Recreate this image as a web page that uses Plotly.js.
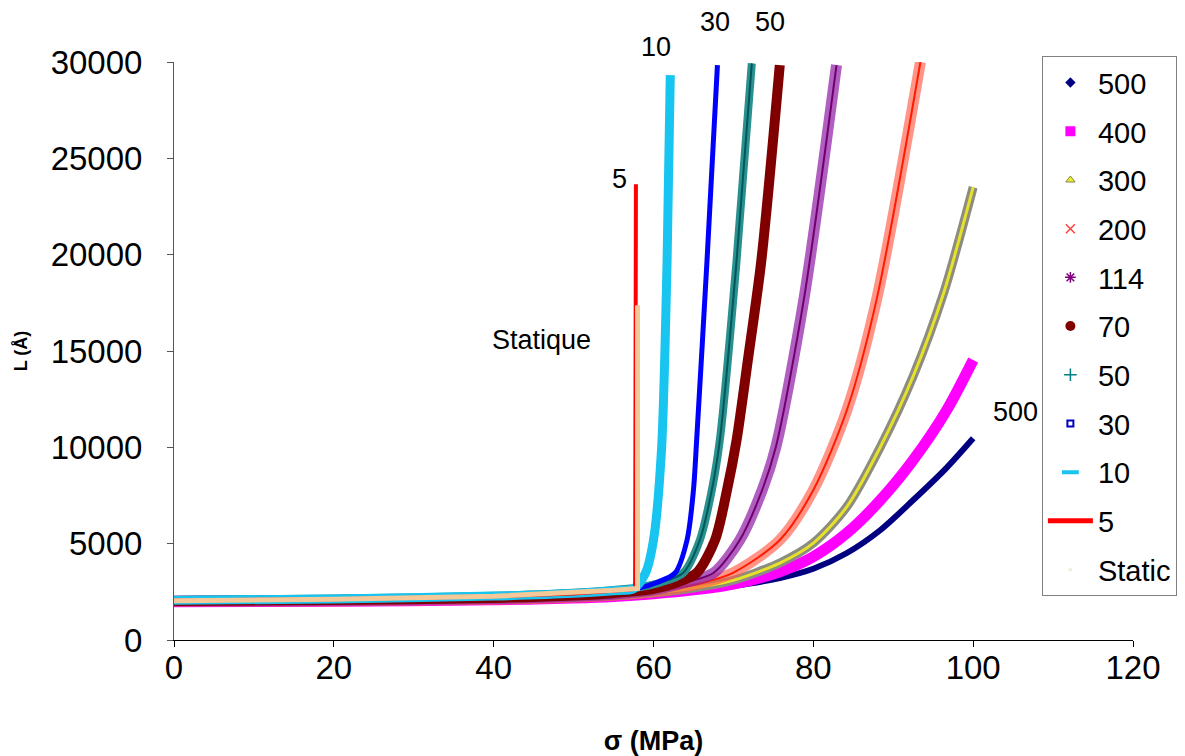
<!DOCTYPE html>
<html>
<head>
<meta charset="utf-8">
<script src="https://cdn.plot.ly/plotly-3.0.1.min.js"></script>
<style>html,body{margin:0;padding:0;background:#fff;}#chart{width:1185px;height:756px;}</style>
</head>
<body>
<div id="chart"></div>
<script>
// Series names (legend order)
const seriesNames = ["500", "400", "300", "200", "114", "70", "50", "30", "10", "5", "Static"];

// sigma (MPa) and L (Å)
const s500 = [0, 20, 40, 50, 55, 60, 65, 70, 75.8, 80, 84.2, 88.4, 92.5, 96.7, 100];
const L500 = [1980, 2000, 2080, 2170, 2250, 2380, 2550, 2800, 3217, 3700, 4515, 5710, 7265, 8950, 10470];

const s400 = [0, 20, 40, 50, 55, 60, 65, 70, 75.8, 80, 84.2, 88.4, 92.5, 96.7, 100];
const L400 = [1990, 2010, 2090, 2180, 2260, 2400, 2600, 2900, 3545, 4323, 5550, 7265, 9340, 11935, 14530];

const s300 = [0, 20, 40, 50, 55, 60, 65, 70, 75.8, 80, 84.2, 88.4, 92.5, 96.3, 100];
const L300 = [2000, 2020, 2100, 2200, 2290, 2450, 2700, 3100, 3995, 5030, 6918, 10030, 13700, 18000, 23500];

const s200 = [0, 20, 40, 50, 55, 60, 65, 70, 75.8, 80, 84.2, 87.9, 93.4];
const L200 = [2010, 2030, 2110, 2220, 2320, 2500, 2850, 3500, 5190, 7785, 11935, 17640, 30000];

const s114 = [0, 20, 40, 50, 55, 60, 64, 67.5, 70.8, 73.6, 75.3, 78.8, 82.9];
const L114 = [2020, 2050, 2150, 2270, 2380, 2600, 3000, 3477, 5190, 7785, 10000, 17640, 29840];

const s70 = [0, 20, 40, 50, 55, 60, 63, 65.4, 67.7, 69.2, 70.4, 71.8, 73.5, 75.8];
const L70 = [2030, 2070, 2180, 2310, 2430, 2650, 3000, 3477, 5190, 7785, 10380, 14500, 19720, 29840];

const s50 = [0, 20, 40, 50, 55, 58, 61, 63.7, 65.8, 67.3, 68.3, 70.4, 72.3];
const L50 = [2080, 2150, 2300, 2450, 2600, 2720, 3000, 3477, 5190, 7785, 10380, 19720, 29930];

const s30 = [0, 20, 40, 50, 55, 58, 60.5, 62.7, 64.2, 65.0, 65.4, 66.7, 68.0];
const L30 = [2070, 2140, 2290, 2440, 2580, 2680, 3000, 3477, 5190, 7785, 10380, 19720, 29840];

const s10 = [0, 20, 40, 50, 55, 57.5, 59.0, 60.0, 61.0, 61.7, 62.1];
const L10 = [2060, 2130, 2280, 2420, 2560, 2660, 3477, 5190, 9860, 19720, 29320];

const s5 = [0, 20, 40, 50, 55, 57.7, 57.8];
const L5 = [2050, 2120, 2270, 2410, 2550, 2650, 23660];

const sStatic = [0, 20, 40, 47, 55, 58, 58];
const LStatic = [2040, 2110, 2270, 2400, 2580, 2680, 17380];

// Curve labels in the plot (x in MPa, y as fraction of plot height)
const labelTexts = ["10", "30", "50", "5", "Statique", "500"];
const labelX = [60.3, 67.7, 74.6, 55.8, 46.0, 105.3];
const labelY = [1.026, 1.069, 1.069, 0.797, 0.519, 0.394];

const xs = [s500, s400, s300, s200, s114, s70, s50, s30, s10, s5, sStatic];
const ys = [L500, L400, L300, L200, L114, L70, L50, L30, L10, L5, LStatic];

// styles
const lineStyles = [
  [{color: "#000080", width: 6}],
  [{color: "#ff00ff", width: 11}],
  [{color: "#8c8c80", width: 9}, {color: "#e6e22a", width: 3}],
  [{color: "rgba(255,90,70,0.65)", width: 11}, {color: "#ff1a00", width: 2}],
  [{color: "rgba(150,40,170,0.75)", width: 11}, {color: "#700070", width: 2}],
  [{color: "#800000", width: 10}],
  [{color: "#2a9090", width: 8}, {color: "#005858", width: 2}],
  [{color: "#0000ff", width: 5}],
  [{color: "#18c4f0", width: 9}],
  [{color: "#ff0000", width: 4}],
  [{color: "#f5c898", width: 5}]
];
const legendMarkers = [
  {symbol: "diamond", size: 8, color: "#000080"},
  {symbol: "square", size: 10, color: "#ff00ff"},
  {symbol: "triangle-up", size: 8, color: "#f0f020", line: {color: "#808060", width: 1}},
  {symbol: "x-thin-open", size: 9, color: "#ff4040", line: {color: "#ff4040", width: 1.5}},
  {symbol: "asterisk-open", size: 9, color: "#800080", line: {color: "#800080", width: 1.5}},
  {symbol: "circle", size: 10, color: "#800000"},
  {symbol: "cross-thin-open", size: 9, color: "#008080", line: {color: "#008080", width: 1.5}},
  {symbol: "square-open", size: 6, color: "#0000c0", line: {color: "#0000c0", width: 2}},
  {symbol: "line-ew-open", size: 12, color: "#18c4f0", line: {color: "#18c4f0", width: 4}},
  null,
  {symbol: "circle", size: 4, color: "#f5ece0"}
];

const FONT = "Liberation Sans, Arial, sans-serif";
const traces = [];
for (let i = 0; i < seriesNames.length; i++) {
  const vertical = (i >= 9);
  lineStyles[i].forEach(function (ls) {
    traces.push({
      x: xs[i], y: ys[i], type: "scatter", mode: "lines",
      line: {color: ls.color, width: ls.width, shape: vertical ? "linear" : "spline", smoothing: 0.8},
      showlegend: false, legendgroup: "g" + i, hoverinfo: "skip"
    });
  });
  if (legendMarkers[i]) {
    traces.push({
      x: [null], y: [null], type: "scatter", mode: "markers", name: seriesNames[i],
      marker: legendMarkers[i], legendgroup: "g" + i, showlegend: true
    });
  } else {
    traces.push({
      x: [null], y: [null], type: "scatter", mode: "lines", name: seriesNames[i],
      line: {color: "#ff0000", width: 5}, legendgroup: "g" + i, showlegend: true
    });
  }
}

const annotations = labelTexts.map(function (t, k) {
  return {x: labelX[k], y: labelY[k], xref: "x", yref: "paper", text: t, showarrow: false,
          xanchor: "center", yanchor: "middle",
          font: {size: 27, color: "#000", family: FONT}};
});

const layout = {
  width: 1185, height: 756,
  paper_bgcolor: "#fff", plot_bgcolor: "#fff",
  margin: {l: 174, r: 52, t: 62, b: 116, autoexpand: false},
  font: {family: FONT, color: "#000"},
  showlegend: true,
  legend: {
    x: 0.905, xanchor: "left", y: 1.01, yanchor: "top", maxheight: 700,
    bgcolor: "#fff", bordercolor: "#808080", borderwidth: 1,
    font: {size: 29, color: "#000"}, tracegroupgap: 8, itemwidth: 45
  },
  xaxis: {
    range: [0, 120], dtick: 20, tick0: 0, showgrid: false, zeroline: false,
    showline: true, linecolor: "#000", linewidth: 1, ticks: "outside", ticklen: 6, tickcolor: "#000",
    tickfont: {size: 33, color: "#000"}, ticklabelstandoff: -8,
    title: {text: "σ (MPa)", font: {size: 27, color: "#000", family: FONT, weight: "bold"}, standoff: 46}
  },
  yaxis: {
    range: [0, 30000], dtick: 5000, tick0: 0, tickformat: "d", showgrid: false, zeroline: false,
    showline: true, linecolor: "#555", linewidth: 1, ticks: "outside", ticklen: 6, tickcolor: "#555",
    tickfont: {size: 33, color: "#000"}, ticklabelstandoff: 18,
    title: {text: "L (Å)", font: {size: 18, color: "#000", family: FONT, weight: "bold"}, standoff: 18}
  },
  annotations: annotations
};

Plotly.newPlot("chart", traces, layout, {displayModeBar: false, staticPlot: true});
</script>
</body>
</html>
